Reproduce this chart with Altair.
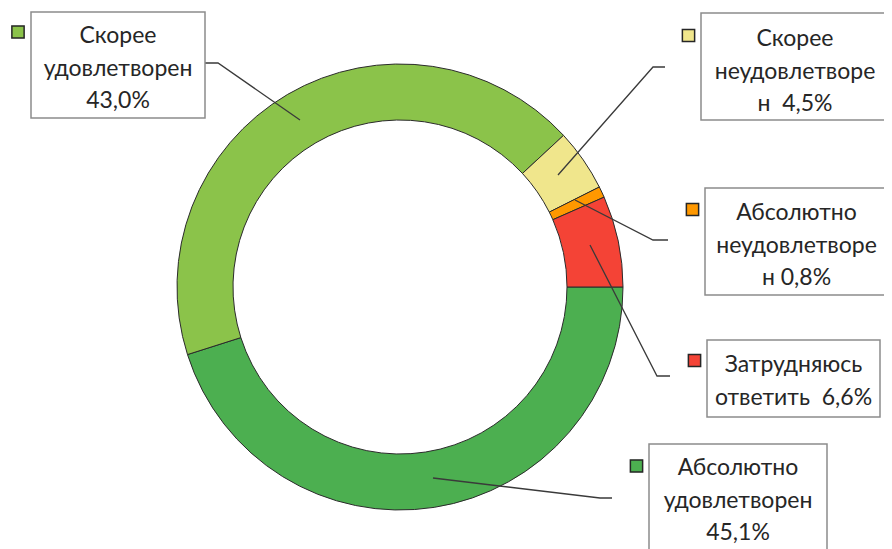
import altair as alt
import pandas as pd

# ---- data ----
categories = ["Абсолютно удовлетворен", "Скорее удовлетворен", "Скорее неудовлетворен",
              "Абсолютно неудовлетворен", "Затрудняюсь ответить"]
values = [45.1, 43.0, 4.5, 0.8, 6.6]
label_texts = ["Абсолютно\nудовлетворен\n45,1%",
               "Скорее\nудовлетворен\n43,0%",
               "Скорее\nнеудовлетворе\nн \u00a04,5%",
               "Абсолютно\nнеудовлетворе\nн 0,8%",
               "Затрудняюсь\nответить \u00a06,6%"]
colors = ["#4CAF50", "#8BC34A", "#F0E68C", "#FF9800", "#F44336"]

# ---- layout (page pixel coordinates, mapped through linear scales) ----
W, H = 876, 541
center = (400, 287)
box_x = [649, 31, 701, 705, 707]
box_x2 = [827, 205, 889, 888, 880]
box_y = [444, 12, 13, 188, 340]
box_y2 = [565, 118, 120, 295, 417]
text_y = [468, 36, 39, 213, 365]
sq_x = [636.5, 18, 688.5, 692.5, 694.5]
sq_y = [466, 32, 35.5, 209.5, 360.5]
leaders = [
    [(433, 478), (600, 498), (612, 498)],
    [(205, 63), (218, 63), (300, 120)],
    [(665, 67), (653, 67), (558, 175)],
    [(668, 240), (653, 240), (575, 200)],
    [(670, 376), (657, 376), (590, 245)],
]

xs = alt.Scale(domain=[8, 8 + W], range=[0, W])
ys = alt.Scale(domain=[8, 8 + H], range=[0, H])
cscale = alt.Scale(domain=categories, range=colors)

df = pd.DataFrame({
    "cat": categories, "value": values, "order": list(range(5)),
    "label": label_texts,
    "bx": box_x, "bx2": box_x2, "by": box_y, "by2": box_y2,
    "tx": [(a + b) / 2 for a, b in zip(box_x, box_x2)], "ty": text_y,
    "sx": sq_x, "sy": sq_y,
    "cx": [center[0]] * 5, "cy": [center[1]] * 5,
})

lrows = []
for i, pts in enumerate(leaders):
    for j, (px, py) in enumerate(pts):
        lrows.append({"cat": categories[i], "k": j, "px": px, "py": py})
ldf = pd.DataFrame(lrows)

base = alt.Chart(df)

arc = base.mark_arc(radius=223, radius2=167, stroke="#2b2b2b", strokeWidth=1).encode(
    theta=alt.Theta("value:Q", stack=True,
                    scale=alt.Scale(range=[1.5707963, 1.5707963 + 6.2831853])),
    order=alt.Order("order:Q"),
    color=alt.Color("cat:N", scale=cscale, legend=None),
    x=alt.X("cx:Q", scale=xs, axis=None),
    y=alt.Y("cy:Q", scale=ys, axis=None),
)

lines = alt.Chart(ldf).mark_line(color="#3a3a3a", strokeWidth=1.3).encode(
    x=alt.X("px:Q", scale=xs, axis=None),
    y=alt.Y("py:Q", scale=ys, axis=None),
    detail="cat:N",
    order="k:Q",
)

boxes = base.mark_rect(fill="white", stroke="#8c8c8c", strokeWidth=1.5).encode(
    x=alt.X("bx:Q", scale=xs, axis=None), x2="bx2:Q",
    y=alt.Y("by:Q", scale=ys, axis=None), y2="by2:Q",
)

texts = base.mark_text(font="Lato", fontSize=23, lineBreak="\n", lineHeight=32.5,
                       baseline="middle", align="center", color="#262626").encode(
    x=alt.X("tx:Q", scale=xs, axis=None),
    y=alt.Y("ty:Q", scale=ys, axis=None),
    text="label:N",
)

squares = base.mark_point(shape="square", filled=True, size=150, opacity=1,
                          stroke="#262626", strokeWidth=1.5).encode(
    x=alt.X("sx:Q", scale=xs, axis=None),
    y=alt.Y("sy:Q", scale=ys, axis=None),
    fill=alt.Fill("cat:N", scale=cscale, legend=None),
)

chart = alt.layer(arc, lines, boxes, texts, squares).properties(
    width=W, height=H,
    autosize=alt.AutoSizeParams(type="none"),
    padding=0,
    background="white",
).configure_view(stroke=None)

chart.save("out.html", embed_options={"renderer": "svg", "actions": False})
